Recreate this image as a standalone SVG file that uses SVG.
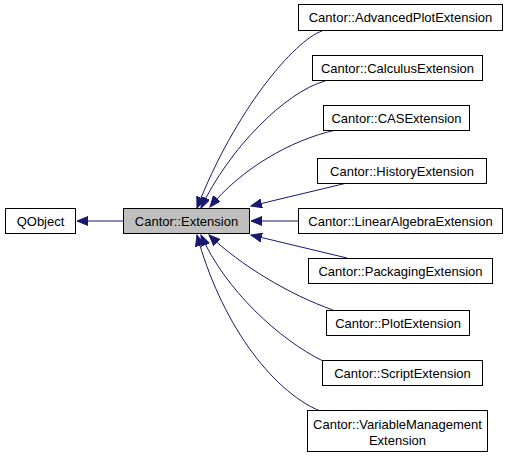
<svg xmlns="http://www.w3.org/2000/svg" width="512" height="458" viewBox="0 0 512 458">
<style>
  .box { fill: #ffffff; stroke: #000000; stroke-width: 1; }
  .base { fill: #bfbfbf; stroke: #000000; stroke-width: 1; }
  text { font-family: "Liberation Sans", Arial, Helvetica, sans-serif; font-size: 13px; fill: #000000; text-anchor: middle; }
  .edge { fill: none; stroke: #191970; stroke-width: 1; marker-end: url(#arrow); }
</style>
<defs>
  <marker id="arrow" markerUnits="userSpaceOnUse" markerWidth="13" markerHeight="11" refX="11" refY="4.5" orient="auto" viewBox="0 0 13 11">
    <path d="M0,0 L11,4.5 L0,9 z" fill="#191970" stroke="#191970" stroke-width="1"/>
  </marker>
</defs>
<rect width="512" height="458" fill="#ffffff"/>
<g id="connectors">
  <path class="edge" d="M123,221 L77,221"/>
  <path class="edge" d="M322,31 C295,40 235,110 197,208"/>
  <path class="edge" d="M325,81 C285,92 228,150 201,208"/>
  <path class="edge" d="M336,130 C290,140 240,170 210,207"/>
  <path class="edge" d="M347,183 L251,206"/>
  <path class="edge" d="M298,221 L251,221"/>
  <path class="edge" d="M347,258 L251,235"/>
  <path class="edge" d="M333,310 C290,295 240,265 209,235"/>
  <path class="edge" d="M323,361 C280,340 225,290 201,235"/>
  <path class="edge" d="M320,411 C270,390 220,320 197,235"/>
</g>
<g id="QObject">
  <rect class="box" x="5.5" y="208.5" width="70" height="25"/>
  <text x="40.5" y="225.5">QObject</text>
</g>
<g id="Extension">
  <rect class="base" x="123.5" y="208.5" width="126" height="25"/>
  <text x="186.5" y="225.5">Cantor::Extension</text>
</g>
<g id="AdvancedPlotExtension">
  <rect class="box" x="298.5" y="4.5" width="204" height="26"/>
  <text x="400.5" y="22">Cantor::AdvancedPlotExtension</text>
</g>
<g id="CalculusExtension">
  <rect class="box" x="312.5" y="55.5" width="170" height="25"/>
  <text x="397.5" y="72.5">Cantor::CalculusExtension</text>
</g>
<g id="CASExtension">
  <rect class="box" x="323.5" y="105.5" width="146" height="25"/>
  <text x="396.5" y="122.5">Cantor::CASExtension</text>
</g>
<g id="HistoryExtension">
  <rect class="box" x="317.5" y="158.5" width="169" height="25"/>
  <text x="402" y="175.5">Cantor::HistoryExtension</text>
</g>
<g id="LinearAlgebraExtension">
  <rect class="box" x="298.5" y="208.5" width="204" height="25"/>
  <text x="400.5" y="225.5">Cantor::LinearAlgebraExtension</text>
</g>
<g id="PackagingExtension">
  <rect class="box" x="308.5" y="258.5" width="184" height="25"/>
  <text x="400.5" y="275.5">Cantor::PackagingExtension</text>
</g>
<g id="PlotExtension">
  <rect class="box" x="326.5" y="310.5" width="143" height="25"/>
  <text x="398" y="327.5">Cantor::PlotExtension</text>
</g>
<g id="ScriptExtension">
  <rect class="box" x="322.5" y="360.5" width="160" height="25"/>
  <text x="402.5" y="377.5">Cantor::ScriptExtension</text>
</g>
<g id="VariableManagementExtension">
  <rect class="box" x="307.5" y="410.5" width="180" height="41"/>
  <text x="397.5" y="429">Cantor::VariableManagement</text>
  <text x="397.5" y="445">Extension</text>
</g>
</svg>
